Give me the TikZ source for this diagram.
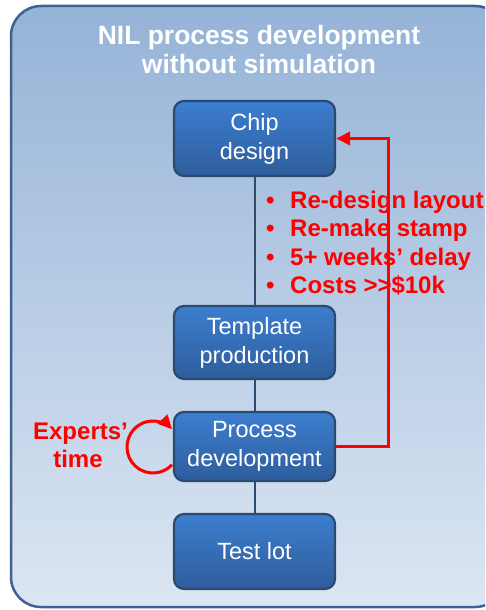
\documentclass[tikz,border=0pt]{standalone}
\usepackage{fontspec}
\setmainfont{Liberation Sans}
\usetikzlibrary{arrows.meta}

\definecolor{panelTop}{HTML}{95B3D7}
\definecolor{panelBot}{HTML}{DCE6F3}
\definecolor{panelLine}{HTML}{3D6394}
\definecolor{boxTop}{HTML}{3C7ECF}
\definecolor{boxBot}{HTML}{2E5D9C}
\definecolor{boxLine}{HTML}{2B4A70}
\definecolor{linkLine}{HTML}{2D4B6E}
\definecolor{alertRed}{HTML}{FF0000}

\tikzset{
  stepbox/.style={draw=boxLine, line width=2.2pt, rounded corners=10pt,
    top color=boxTop, bottom color=boxBot, text=white, align=center,
    minimum width=161pt, inner sep=0pt,
    font=\fontsize{23.5}{29}\selectfont},
  link/.style={draw=linkLine, line width=2pt},
  feedback/.style={draw=alertRed, line width=3pt,
    -{Triangle[length=14pt,width=13pt]}},
  titletext/.style={text=white, anchor=base, inner sep=0pt,
    font=\fontsize{26.5}{30}\selectfont\bfseries},
  alerttext/.style={text=alertRed, inner sep=0pt,
    font=\fontsize{24}{29}\selectfont\bfseries},
  bulletline/.style={alerttext, anchor=base west}
}

\newcommand{\bulletitem}[1]{\makebox[24pt][l]{\textbullet}#1}

\begin{document}
\begin{tikzpicture}[x=1pt, y=-1pt]
  \useasboundingbox (0,0) rectangle (485,610);
  \clip (0,0) rectangle (485,610);

  % background panel
  \draw[draw=panelLine, line width=2.5pt, rounded corners=30pt,
        top color=panelTop, bottom color=panelBot]
    (11,6) rectangle (505,607);

  % title
  \node[titletext] (title1) at (259,45) {NIL process development};
  \node[titletext] (title2) at (259,74) {without simulation};

  % self loop on process development (drawn first, partly behind the box)
  \coordinate (loopC) at (153,447);
  \draw[feedback] (loopC) ++(43:26) arc[start angle=43, end angle=317, radius=26];

  % process steps
  \node[stepbox, minimum height=75pt] (chip)  at (254.5,138.5) {Chip\\design};
  \node[stepbox, minimum height=73pt] (templ) at (254.5,342.5) {Template\\production};
  \node[stepbox, minimum height=69pt] (proc)  at (254.5,446.5) {Process\\development};
  \node[stepbox, minimum height=75pt] (test)  at (254.5,551.5) {Test lot};

  % links between steps
  \draw[link] (chip.south)  -- (templ.north);
  \draw[link] (templ.south) -- (proc.north);
  \draw[link] (proc.south)  -- (test.north);

  % feedback loop back to chip design
  \coordinate (turn) at (388,138.5);
  \draw[feedback] (proc.east) -| (turn) -- (chip.east);

  % consequences of a redesign
  \node[bulletline] (b1) at (266,208) {\bulletitem{Re-design layout}};
  \node[bulletline] (b2) at (266,236.5) {\bulletitem{Re-make stamp}};
  \node[bulletline] (b3) at (266,265) {\bulletitem{5+ weeks’ delay}};
  \node[bulletline] (b4) at (266,293.5) {\bulletitem{Costs >{}>\$10k}};

  \node[alerttext, anchor=base] (exp1) at (80.5,439) {Experts’};
  \node[alerttext, anchor=base] (exp2) at (78,467) {time};
\end{tikzpicture}
\end{document}
